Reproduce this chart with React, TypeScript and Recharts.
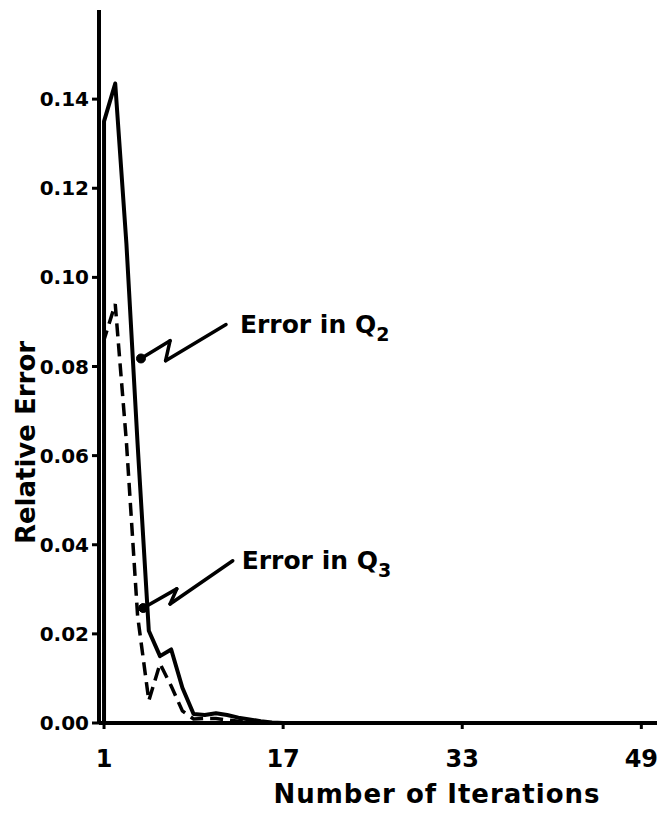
import { LineChart, Line, XAxis, YAxis, Label, ReferenceLine, ReferenceDot } from 'recharts';

// iteration numbers and relative errors
// (iteration 1 appears twice: the curves rise straight up from zero there)
const q2Iterations = [1, 1, 2, 3, 4, 5, 6, 7, 8, 9, 10, 11, 12, 13, 14, 15, 16, 17];
const q2Errors = [0, 0.135, 0.1435, 0.1075, 0.0625, 0.0207, 0.015, 0.0165, 0.0079, 0.002, 0.0018, 0.0022, 0.0018, 0.0012, 0.0008, 0.0004, 0.0001, 0];

const q3Iterations = [1, 1, 2, 3, 4, 5, 6, 7, 8, 9, 10, 11, 12, 13, 14];
const q3Errors = [0, 0.086, 0.094, 0.063, 0.024, 0.005, 0.0133, 0.0083, 0.0027, 0.0009, 0.001, 0.001, 0.0007, 0.0004, 0];

const xTicks = [1, 17, 33, 49];
const yTicks = [0, 0.02, 0.04, 0.06, 0.08, 0.1, 0.12, 0.14];

// zig-zag leader lines from the curves to the annotations (in data units)
const q2Leader = [
  { x: 4.3, y: 0.0818 },
  { x: 6.9, y: 0.0858 },
  { x: 6.5, y: 0.0813 },
  { x: 11.9, y: 0.0894 },
];
const q3Leader = [
  { x: 4.5, y: 0.0258 },
  { x: 7.5, y: 0.0301 },
  { x: 6.9, y: 0.0267 },
  { x: 12.5, y: 0.0364 },
];

const q2Series = q2Iterations.map((it, i) => ({ it, err: q2Errors[i] }));
const q3Series = q3Iterations.map((it, i) => ({ it, err: q3Errors[i] }));

const FONT = '"DejaVu Sans", Verdana, sans-serif';
const INK = '#000';

function annotation(sub: string) {
  return ({ viewBox }: any) => {
    const x = viewBox?.x ?? 0;
    const y = viewBox?.y ?? 0;
    return (
      <text x={x} y={y} fill={INK} fontFamily={FONT} fontWeight="bold" fontSize={25}>
        Error in Q
        <tspan dy={8} fontSize={19}>{sub}</tspan>
      </text>
    );
  };
}

function leaderSegments(points: { x: number; y: number }[], key: string) {
  return points.slice(1).map((p, i) => (
    <ReferenceLine
      key={`${key}-${i}`}
      segment={[points[i], p]}
      stroke={INK}
      strokeWidth={3.5}
      strokeLinecap="round"
    />
  ));
}

export default function App() {
  return (
    <div style={{ position: 'absolute', left: 0, top: 0, width: 660, height: 816, background: '#fff' }}>
      <LineChart width={660} height={816} margin={{ top: 10, right: 3, left: 0, bottom: 0 }}>
        <XAxis
          type="number"
          dataKey="it"
          domain={[0.55, 50.4]}
          ticks={xTicks}
          allowDuplicatedCategory
          height={93}
          axisLine={{ stroke: INK, strokeWidth: 4 }}
          tickLine={{ stroke: INK, strokeWidth: 3 }}
          tickSize={6}
          tickMargin={21}
          tick={{ fill: INK, fontSize: 24, fontWeight: 'bold', fontFamily: FONT }}
        >
          <Label
            content={({ viewBox }: any) => {
              const vb = viewBox ?? { x: 99, y: 723, width: 558, height: 93 };
              return (
                <text
                  x={vb.x + vb.width / 2 + 59}
                  y={vb.y + 80}
                  textAnchor="middle"
                  fill={INK}
                  fontFamily={FONT}
                  fontWeight="bold"
                  fontSize={26}
                  letterSpacing={1}
                >
                  Number of Iterations
                </text>
              );
            }}
          />
        </XAxis>
        <YAxis
          type="number"
          domain={[0, 0.16]}
          ticks={yTicks}
          width={99}
          axisLine={{ stroke: INK, strokeWidth: 4 }}
          tickLine={{ stroke: INK, strokeWidth: 3 }}
          tickSize={7}
          tickMargin={3}
          tickFormatter={(v: number) => v.toFixed(2)}
          tick={{ fill: INK, fontSize: 20, fontWeight: 'bold', fontFamily: FONT }}
        >
          <Label
            content={({ viewBox }: any) => {
              const vb = viewBox ?? { x: 0, y: 10, width: 99, height: 713 };
              const cx = vb.x + 35;
              const cy = vb.y + vb.height / 2 + 76;
              return (
                <text
                  x={cx}
                  y={cy}
                  transform={`rotate(-90 ${cx} ${cy})`}
                  textAnchor="middle"
                  fill={INK}
                  fontFamily={FONT}
                  fontWeight="bold"
                  fontSize={26}
                >
                  Relative Error
                </text>
              );
            }}
          />
        </YAxis>

        <Line
          data={q2Series}
          dataKey="err"
          type="linear"
          stroke={INK}
          strokeWidth={4}
          strokeLinejoin="round"
          dot={false}
          isAnimationActive={false}
        />
        <Line
          data={q3Series}
          dataKey="err"
          type="linear"
          stroke={INK}
          strokeWidth={3.5}
          strokeDasharray="13 7"
          dot={false}
          isAnimationActive={false}
        />

        {leaderSegments(q2Leader, 'q2')}
        {leaderSegments(q3Leader, 'q3')}
        <ReferenceDot x={q2Leader[0].x} y={q2Leader[0].y} r={4.5} fill={INK} stroke={INK} />
        <ReferenceDot x={q3Leader[0].x} y={q3Leader[0].y} r={4.5} fill={INK} stroke={INK} />
        <ReferenceDot x={13.14} y={0.0876} r={0} fill="none" stroke="none" label={{ content: annotation('2') }} />
        <ReferenceDot x={13.3} y={0.0346} r={0} fill="none" stroke="none" label={{ content: annotation('3') }} />
      </LineChart>
    </div>
  );
}
